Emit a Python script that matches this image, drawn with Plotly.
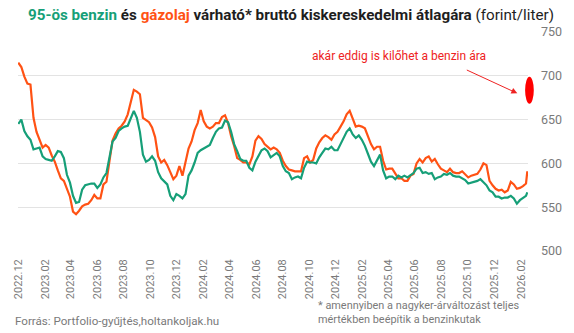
import pandas as pd
import plotly.graph_objects as go

# ---- data (weekly readings, forint/liter) ----
start_date = "2022-12-01"
n_weeks = 168
last_date = "2026-02-15"

gazolaj = [
    715, 710, 699, 691, 690, 652, 636, 626, 618, 621,
    618, 609, 602, 592, 583, 580, 570, 562, 545, 542,
    546, 551, 553, 554, 558, 564, 560, 560, 576, 579,
    603, 626, 634, 640, 643, 648, 656, 671, 684, 682,
    679, 652, 649, 647, 641, 630, 608, 601, 604, 598,
    590, 582, 586, 597, 586, 600, 617, 625, 638, 646,
    661, 648, 642, 640, 642, 646, 646, 653, 655, 646,
    631, 620, 606, 604, 601, 601, 599, 608, 626, 631,
    628, 622, 619, 616, 618, 616, 612, 603, 597, 593,
    592, 591, 591, 591, 606, 608, 601, 604, 617, 624,
    629, 632, 630, 627, 633, 636, 642, 648, 656, 660,
    651, 642, 643, 642, 640, 630, 622, 616, 619, 619,
    603, 593, 594, 594, 588, 583, 583, 580, 580, 586,
    588, 600, 605, 601, 606, 608, 602, 605, 599, 594,
    592, 590, 594, 590, 589, 589, 591, 587, 584, 586,
    587, 588, 593, 600, 598, 580, 575, 571, 569, 570,
    567, 569, 579, 576, 571, 572, 574, 577,
    591,
]

benzin = [
    645, 650, 637, 631, 627, 616, 617, 618, 608, 605,
    604, 603, 608, 614, 613, 606, 587, 578, 563, 555,
    556, 570, 575, 576, 577, 577, 572, 576, 584, 589,
    606, 625, 629, 637, 640, 642, 643, 651, 660, 652,
    636, 610, 602, 604, 608, 603, 590, 583, 580, 576,
    563, 558, 565, 563, 560, 565, 586, 592, 601, 612,
    615, 617, 619, 621, 629, 636, 640, 641, 649, 647,
    636, 622, 614, 605, 603, 603, 595, 592, 602, 609,
    615, 617, 614, 607, 610, 612, 608, 597, 591, 589,
    582, 584, 585, 583, 595, 602, 601, 601, 600, 607,
    612, 617, 616, 619, 615, 615, 622, 630, 636, 640,
    633, 629, 632, 627, 620, 611, 602, 597, 603, 610,
    592, 583, 585, 585, 582, 586, 584, 586, 584, 587,
    589, 594, 595, 589, 590, 588, 589, 582, 584, 585,
    588, 587, 589, 586, 585, 585, 583, 581, 577, 578,
    579, 580, 582, 579, 575, 569, 567, 562, 562, 560,
    561, 561, 563, 560, 554, 558, 561, 563,
    567,
]

y_ticks = [500, 550, 600, 650, 700, 750]
possible_range = [668, 699]          # "akár eddig is kilőhet a benzin ára"
arrow_target = ("2026-01-23", 680)

dates = list(pd.date_range(start_date, periods=n_weeks, freq="7D")) + [pd.Timestamp(last_date)]

GREEN = "#169f78"
ORANGE = "#ff5214"
GRAY = "#7a7a7a"
FONT = "Roboto"

fig = go.Figure()
fig.add_trace(go.Scatter(x=dates, y=gazolaj, mode="lines", name="gázolaj",
                         line=dict(color=ORANGE, width=2.2), hoverinfo="skip"))
fig.add_trace(go.Scatter(x=dates, y=benzin, mode="lines", name="95-ös benzin",
                         line=dict(color=GREEN, width=2.2), hoverinfo="skip"))

title_html = (f"<b><span style='color:{GREEN}'>95-ös benzin</span> és "
              f"<span style='color:{ORANGE}'>gázolaj</span> várható* bruttó "
              f"kiskereskedelmi átlagára</b> (forint/liter)")

fig.update_layout(
    width=574, height=333,
    margin=dict(l=13, r=33, t=32, b=82),
    paper_bgcolor="white", plot_bgcolor="white",
    showlegend=False,
    font=dict(family=FONT, color=GRAY),
    title=dict(text=title_html, font=dict(family=FONT, size=15.2, color="#1e1e1e"),
               xref="container", yref="container", x=28 / 574, xanchor="left",
               y=1 - 15 / 333, yanchor="middle"),
    xaxis=dict(type="date", range=["2022-11-30 08:00", "2026-02-16 14:00"],
               tick0=start_date, dtick="M2", tickformat="%Y.%m", tickangle=-90,
               showgrid=False, zeroline=False, showline=False, ticks="",
               tickfont=dict(size=11, color=GRAY), ticklabelstandoff=5),
    yaxis=dict(range=[y_ticks[0], y_ticks[-1]], tickvals=y_ticks, side="right",
               showgrid=True, gridcolor="#e3e3e3", gridwidth=1.2,
               zeroline=False, showline=False, ticks="",
               tickfont=dict(size=12.5, color=GRAY), ticklabelstandoff=12),
)

# ellipse marking possible price range
fig.add_shape(type="circle", xref="paper", yref="paper",
              x0=(538 - 13) / 528, x1=(547 - 13) / 528,
              y0=(possible_range[0] - 500) / 250, y1=(possible_range[1] - 500) / 250,
              fillcolor="#ff0000", line=dict(color="#ff0000", width=0), layer="above")

fig.add_annotation(x=arrow_target[0], y=arrow_target[1], xref="x", yref="y",
                   ax=-52, ay=-24, axref="pixel", ayref="pixel",
                   showarrow=True, arrowhead=2, arrowsize=1.2, arrowwidth=1,
                   arrowcolor="#ee2222", text="")
fig.add_annotation(x=(407 - 13) / 528, y=(251 - 56) / 219, xref="paper", yref="paper",
                   text="akár eddig is kilőhet a benzin ára", showarrow=False,
                   font=dict(family=FONT, size=12, color="#ee2222"),
                   xanchor="center", yanchor="middle")

fig.add_annotation(x=(8 - 13) / 528, y=(251 - 321) / 219, xref="paper", yref="paper",
                   text="Forrás: Portfolio-gyűjtés,holtankoljak.hu", showarrow=False,
                   font=dict(family=FONT, size=11.6, color=GRAY),
                   xanchor="left", yanchor="middle")
fig.add_annotation(x=(322 - 13) / 528, y=(251 - 312) / 219, xref="paper", yref="paper",
                   text="* amennyiben a nagyker-árváltozást teljes<br>mértékben beépítik a benzinkutak",
                   showarrow=False, align="left",
                   font=dict(family=FONT, size=10.9, color=GRAY),
                   xanchor="left", yanchor="middle")

fig.write_html("out.html")
